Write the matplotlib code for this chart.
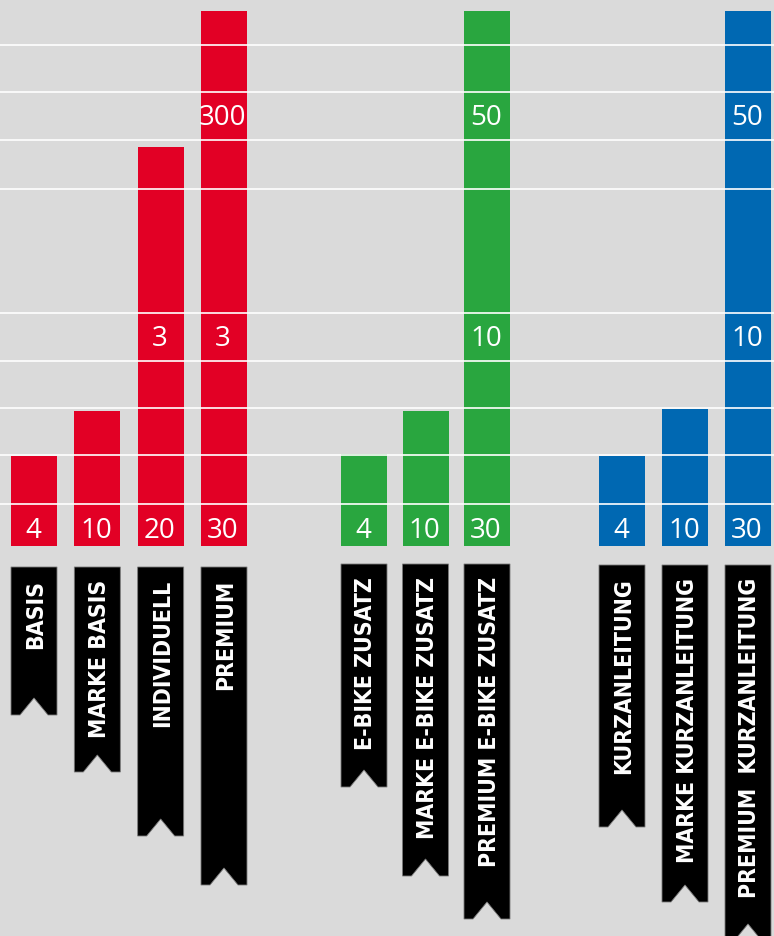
import os
import matplotlib
matplotlib.use("Agg")
import matplotlib.pyplot as plt
from matplotlib.patches import Polygon
from matplotlib import font_manager
from matplotlib.font_manager import FontProperties

# ---------------- data ----------------
categories = ["BASIS", "MARKE BASIS", "INDIVIDUELL", "PREMIUM",
              "E-BIKE ZUSATZ", "MARKE E-BIKE ZUSATZ", "PREMIUM E-BIKE ZUSATZ",
              "KURZANLEITUNG", "MARKE KURZANLEITUNG", "PREMIUM  KURZANLEITUNG"]
group_of = [0, 0, 0, 0, 1, 1, 1, 2, 2, 2]
bar_heights = [89.5, 134.5, 398.5, 534.5, 91.5, 134.5, 534.5, 89.5, 136.5, 534.5]
bottom_labels = ["4", "10", "20", "30", "4", "10", "30", "4", "10", "30"]
mid_labels = ["", "", "3", "3", "", "", "10", "", "", "10"]
top_labels = ["", "", "", "300", "", "", "50", "", "", "50"]
grid_levels = [42, 90.3, 137.2, 184.5, 233, 356.9, 405.1, 453.4, 501]

# ---------------- layout / style ----------------
group_colors = ["#E20025", "#29A63F", "#0068B2"]
group_start = [34, 364, 622]
group_step = [63.33, 61.5, 63]
bar_width = 46
ribbon_top = [21.5, 18.5, 19.5]          # gap below baseline
ribbon_len = [148, 205, 269, 318, 223, 312, 355, 262, 337, 376]
notch_half, notch_h = 14, 17
bg = "#DADADA"
longest_label_px = 320                   # length of longest ribbon text

W, H = 774, 936
baseline_px = 545.5


def _weight(w):
    if isinstance(w, str):
        return font_manager.weight_dict.get(w, 400)
    return int(w)


def pick_condensed_font():
    best, best_score = None, -1e9
    pref = ["noto sans", "open sans", "roboto", "dejavu sans", "liberation sans", "lato"]
    for f in font_manager.fontManager.ttflist:
        nm = f.name.lower()
        fn = os.path.basename(f.fname).lower()
        st = str(f.stretch).lower()
        if f.style != "normal":
            continue
        if "mono" in nm or "mono" in fn or "cjk" in nm or "serif" in nm:
            continue
        cond = ("condensed" in st or "narrow" in nm or "condensed" in nm
                or "condensed" in fn or "narrow" in fn)
        if not cond:
            continue
        if "extra" in fn or "ultra" in fn or "extra" in st or "ultra" in st:
            continue
        w = _weight(f.weight)
        score = -abs(w - 610) / 50.0
        if any(nm.startswith(p) for p in pref):
            score += 2
        if "semicondensed" in fn or "semi" in st:
            score -= 0.5
        if score > best_score:
            best, best_score = f, score
    if best is not None:
        return FontProperties(fname=best.fname)
    return FontProperties(family=["Roboto", "DejaVu Sans"], weight="bold")


fig = plt.figure(figsize=(W / 100, H / 100), dpi=100, facecolor=bg)
ax = fig.add_axes([0, 0, 1, 1])
ax.set_facecolor(bg)
ax.set_xlim(0, W)
ax.set_ylim(baseline_px - H, baseline_px)
ax.axis("off")

# x positions
xs = []
counters = [0, 0, 0]
for g in group_of:
    xs.append(group_start[g] + counters[g] * group_step[g])
    counters[g] += 1

colors = [group_colors[g] for g in group_of]
ax.bar(xs, bar_heights, width=bar_width, bottom=0, color=colors,
       linewidth=0, zorder=1)

for lv in grid_levels:
    ax.axhline(lv, color="white", linewidth=1.2, zorder=2)

num_font = dict(family=["Open Sans", "DejaVu Sans"], size=20, color="white",
                ha="center", va="baseline", zorder=3)
for x, b, m, t in zip(xs, bottom_labels, mid_labels, top_labels):
    ax.text(x - 1, 8.0, b, **num_font)
    if m:
        ax.text(x - 1, 199.5, m, **num_font)
    if t:
        ax.text(x - 1, 420.5, t, **num_font)

# ribbon font: fit longest label to the reference length
rib_fp = pick_condensed_font()
rib_fp.set_size(19)
renderer = fig.canvas.get_renderer()
longest = max(categories, key=len)
probe = fig.text(0, 0, longest, fontproperties=rib_fp)
wpx = probe.get_window_extent(renderer=renderer).width
probe.remove()
rib_fp.set_size(19 * longest_label_px / wpx)

# ribbons
for x, g, L, name in zip(xs, group_of, ribbon_len, categories):
    top = -ribbon_top[g]
    bot = top - L
    x0, x1 = x - bar_width / 2, x + bar_width / 2
    verts = [(x0, top), (x1, top), (x1, bot), (x + notch_half, bot),
             (x, bot + notch_h), (x - notch_half, bot), (x0, bot)]
    ax.add_patch(Polygon(verts, closed=True, facecolor="black",
                         edgecolor="#7a7a7a", linewidth=0.6, zorder=1))
    ax.text(x + 2, top - 13, name, rotation=90, ha="center", va="top",
            color="white", fontproperties=rib_fp, zorder=3)

fig.savefig("out.png", dpi=100, facecolor=bg)
